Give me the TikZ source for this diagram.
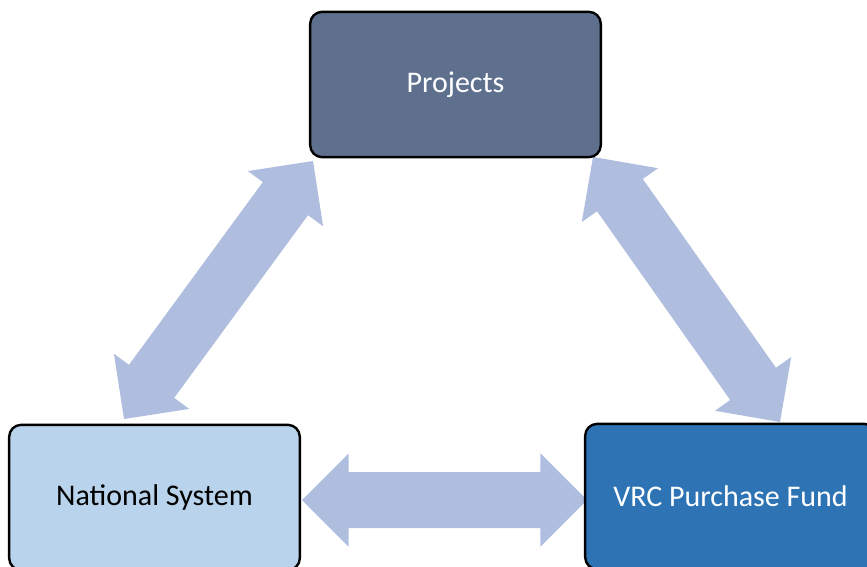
\documentclass[tikz,border=0pt]{standalone}
\usepackage{fontspec}
\setmainfont{Carlito}
\usetikzlibrary{calc}
\definecolor{projfill}{HTML}{5F6F8E}
\definecolor{natfill}{HTML}{B8D3EB}
\definecolor{vrcfill}{HTML}{2E74B5}
\definecolor{arrfill}{HTML}{AFBDDE}
\newcommand\blockdblarrow[2]{%
  \fill[arrfill] (#1)
    -- ($(#1)!35pt!(#2)!35pt!90:(#2)$)
    -- ($(#1)!35pt!(#2)!21pt!90:(#2)$)
    -- ($(#2)!35pt!(#1)!21pt!-90:(#1)$)
    -- ($(#2)!35pt!(#1)!35pt!-90:(#1)$)
    -- (#2)
    -- ($(#2)!35pt!(#1)!35pt!90:(#1)$)
    -- ($(#2)!35pt!(#1)!21pt!90:(#1)$)
    -- ($(#1)!35pt!(#2)!21pt!-90:(#2)$)
    -- ($(#1)!35pt!(#2)!35pt!-90:(#2)$)
    -- cycle;}
\tikzset{
  box/.style={draw=black, line width=1.8pt, rounded corners=9pt,
    minimum width=218pt, minimum height=109pt, inner sep=0pt,
    font=\fontsize{22.5}{27}\selectfont},
}
\begin{document}
\begin{tikzpicture}[x=0.75pt,y=-0.75pt]
\useasboundingbox (0,0) rectangle (867,567);
\clip (0,0) rectangle (867,567);
% arrow end points
\coordinate (h1) at (302,500);
\coordinate (h2) at (587,500);
\coordinate (l1) at (313,161);
\coordinate (l2) at (124,419);
\coordinate (r1) at (593,157);
\coordinate (r2) at (780,422);
\blockdblarrow{h1}{h2}
\blockdblarrow{l1}{l2}
\blockdblarrow{r1}{r2}
% boxes
\node[box, fill=projfill, text=white] (proj) at (455.5,84.5) {Projects};
\node[box, fill=natfill, text=black] (nat) at (154.5,497.5) {National System};
\node[box, fill=vrcfill, text=white] (vrc) at (730.5,496.5) {VRC Purchase Fund};
\end{tikzpicture}
\end{document}
